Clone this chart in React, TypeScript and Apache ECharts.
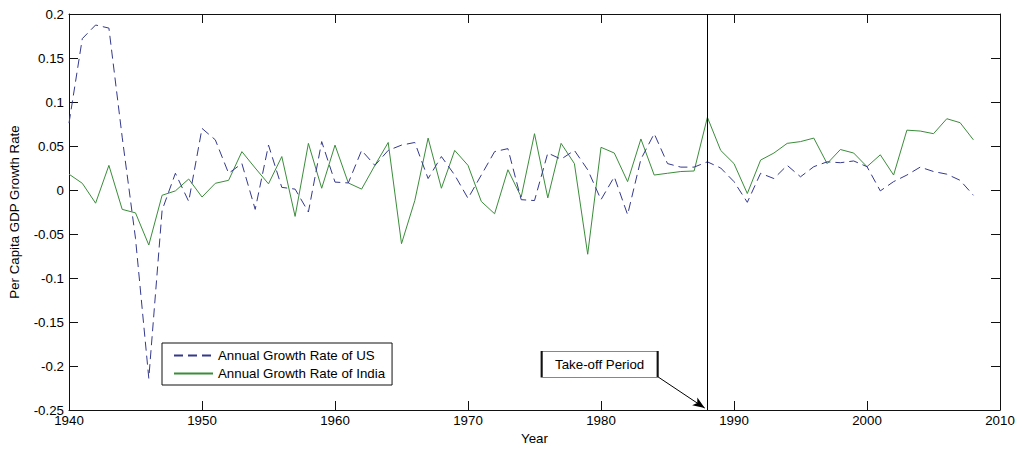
import React, { useEffect, useRef } from "react";
import * as echarts from "echarts";

const years: number[] = [];
for (let y = 1940; y <= 2008; y++) years.push(y);

const usGrowth: number[] = [
  0.076, 0.172, 0.1875, 0.184, 0.06, -0.055, -0.214, -0.023, 0.019, -0.013,
  0.07, 0.057, 0.019, 0.03, -0.022, 0.051, 0.003, 0.001, -0.025, 0.055,
  0.009, 0.008, 0.045, 0.028, 0.045, 0.051, 0.054, 0.013, 0.038, 0.017,
  -0.0095, 0.017, 0.0436, 0.047, -0.011, -0.012, 0.042, 0.035, 0.045, 0.023,
  -0.011, 0.015, -0.028, 0.035, 0.064, 0.03, 0.026, 0.026, 0.032, 0.025,
  0.0095, -0.014, 0.019, 0.013, 0.028, 0.015, 0.0265, 0.032, 0.031, 0.033,
  0.0265, -0.001, 0.0095, 0.017, 0.026, 0.021, 0.018, 0.011, -0.006,
];

const indiaGrowth: number[] = [
  0.018, 0.0076, -0.015, 0.028, -0.022, -0.026, -0.0625, -0.006, -0.001, 0.0125,
  -0.008, 0.0076, 0.011, 0.0436, 0.025, 0.007, 0.038, -0.03, 0.053, 0.002,
  0.051, 0.008, 0.001, 0.028, 0.054, -0.061, -0.012, 0.059, 0.002, 0.045,
  0.028, -0.013, -0.027, 0.023, -0.008, 0.064, -0.009, 0.053, 0.03, -0.073,
  0.0485, 0.042, 0.0095, 0.058, 0.017, 0.019, 0.021, 0.0216, 0.0826, 0.045,
  0.03, -0.004, 0.034, 0.042, 0.053, 0.055, 0.059, 0.03, 0.046, 0.042,
  0.0265, 0.04, 0.017, 0.068, 0.067, 0.064, 0.081, 0.0765, 0.057,
];

const seriesNames = ["Annual Growth Rate of US", "Annual Growth Rate of India"];
const takeOffYear = 1988;
const annotationText = "Take-off Period";
const annotationAt: [number, number] = [1979.9, -0.198];
const arrowFrom: [number, number] = [1984.3, -0.2125];
const arrowTo: [number, number] = [1987.8, -0.2478];

const X_MIN = 1940, X_MAX = 2010, X_INT = 10;
const Y_MIN = -0.25, Y_MAX = 0.2, Y_INT = 0.05;

const font = "'Liberation Sans', Arial, sans-serif";
const FS = 13.3;

export default function App() {
  const ref = useRef<HTMLDivElement>(null);
  useEffect(() => {
    document.body.style.margin = "0";
    const chart = echarts.init(ref.current!, null, { renderer: "svg" });
    const fmt = (v: number) => String(Number(v.toFixed(2)));
    const frame = "#111";
    const baseX = {
      type: "value",
      min: X_MIN,
      max: X_MAX,
      interval: X_INT,
      splitLine: { show: false },
      axisLine: { show: true, onZero: false, lineStyle: { color: frame, width: 1 } },
      axisTick: { show: true, inside: true, length: 9, lineStyle: { color: frame } },
    };
    const baseY = {
      type: "value",
      min: Y_MIN,
      max: Y_MAX,
      interval: Y_INT,
      splitLine: { show: false },
      axisLine: { show: true, onZero: false, lineStyle: { color: frame, width: 1 } },
      axisTick: { show: true, inside: true, length: 9, lineStyle: { color: frame } },
    };
    chart.setOption({
      animation: false,
      backgroundColor: "#fff",
      grid: { left: 67, top: 14, right: 21, bottom: 44, containLabel: false },
      xAxis: [
        {
          ...baseX,
          position: "bottom",
          name: "Year",
          nameLocation: "middle",
          nameGap: 22,
          nameTextStyle: { fontFamily: font, fontSize: FS, color: "#000" },
          axisLabel: {
            fontFamily: font,
            fontSize: FS,
            color: "#000",
            margin: 4,
            formatter: (v: number) => String(v),
          },
        },
        { ...baseX, position: "top", axisLabel: { show: false } },
      ],
      yAxis: [
        {
          ...baseY,
          position: "left",
          name: "Per Capita GDP Growth Rate",
          nameLocation: "middle",
          nameGap: 48,
          nameTextStyle: { fontFamily: font, fontSize: FS, color: "#000" },
          axisLabel: { fontFamily: font, fontSize: FS, color: "#000", margin: 5, formatter: fmt },
        },
        { ...baseY, position: "right", axisLabel: { show: false } },
      ],
      legend: {
        orient: "vertical",
        left: 162,
        top: 343,
        padding: [6, 7, 5, 11],
        itemWidth: 39,
        itemHeight: 14,
        itemGap: 5,
        borderColor: "#111",
        borderWidth: 1,
        backgroundColor: "#fff",
        itemStyle: { opacity: 0 },
        textStyle: { fontFamily: font, fontSize: FS, color: "#000" },
        data: seriesNames,
      },
      series: [
        {
          name: seriesNames[0],
          type: "line",
          xAxisIndex: 0,
          yAxisIndex: 0,
          symbol: "none",
          showSymbol: false,
          data: years.map((y, i) => [y, usGrowth[i]]),
          lineStyle: { color: "#34398c", width: 1, type: [9, 5] },
          itemStyle: { color: "#34398c" },
          z: 3,
          markLine: {
            silent: true,
            animation: false,
            symbol: ["none", "none"],
            label: { show: false },
            lineStyle: { color: "#000", type: "solid", width: 1 },
            data: [
              { xAxis: takeOffYear },
              [
                { coord: arrowFrom, symbol: "none" },
                { coord: arrowTo, symbol: "arrow", symbolSize: [7, 12] },
              ],
            ],
          },
          markPoint: {
            silent: true,
            animation: false,
            data: [
              {
                coord: annotationAt,
                symbol: "rect",
                symbolSize: [116, 26],
                itemStyle: { color: "#fff", borderColor: "#111", borderWidth: 1 },
                label: {
                  show: true,
                  position: "inside",
                  formatter: annotationText,
                  fontFamily: font,
                  fontSize: FS,
                  color: "#000",
                },
              },
            ],
          },
        },
        {
          name: seriesNames[1],
          type: "line",
          xAxisIndex: 0,
          yAxisIndex: 0,
          symbol: "none",
          showSymbol: false,
          data: years.map((y, i) => [y, indiaGrowth[i]]),
          lineStyle: { color: "#3b8c3b", width: 1, type: "solid" },
          itemStyle: { color: "#3b8c3b" },
          z: 2,
        },
      ],
    });
    return () => chart.dispose();
  }, []);
  return (
    <div
      ref={ref}
      style={{ position: "fixed", left: 0, top: 0, width: 1021, height: 454 }}
    />
  );
}
